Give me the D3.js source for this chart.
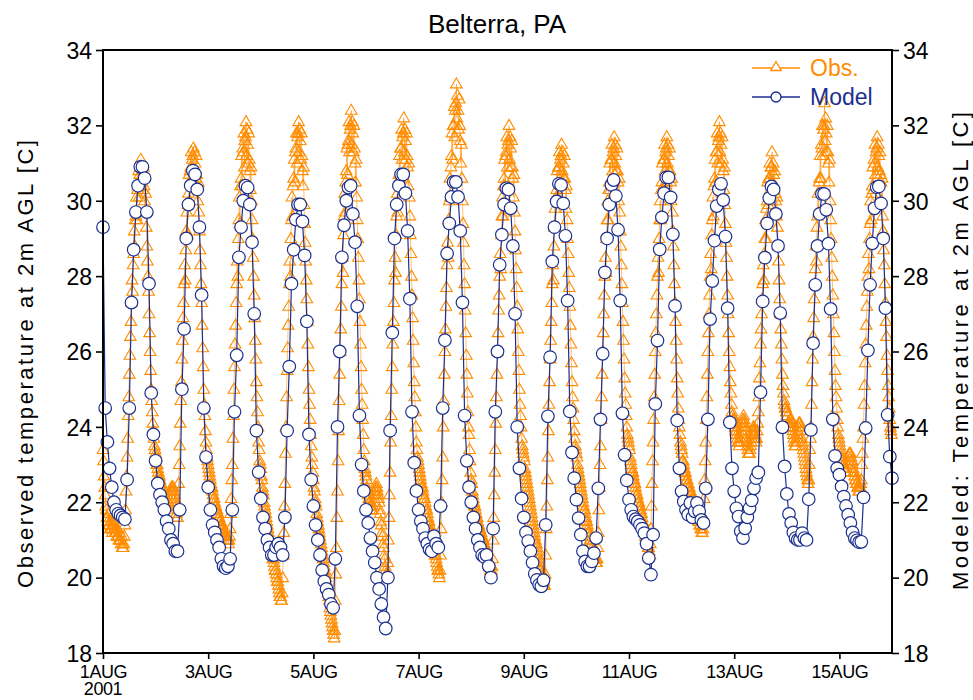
<!DOCTYPE html>
<meta charset="utf-8">
<script src="https://d3js.org/d3.v7.min.js"></script>
<style>
  body { margin: 0; background: #fff; }
  text { font-family: "Liberation Sans", Arial, sans-serif; }
</style>
<svg id="chart" width="973" height="700"></svg>
<script>

// Model: hourly values, one array per day (00..23 UTC)
var mod01 = [29.3, 24.5, 23.6, 22.9, 22.4, 22.0, 21.8, 21.7, 21.65, 21.6, 21.55, 22.6, 24.5, 27.3, 28.7, 29.7, 30.4, 30.9, 30.9, 30.6, 29.7, 27.8, 24.9, 23.8];
var mod02 = [23.1, 22.5, 22.2, 22.0, 21.8, 21.5, 21.3, 21.0, 20.9, 20.7, 20.7, 21.8, 25.0, 26.6, 29.0, 29.9, 30.4, 30.8, 30.7, 30.3, 29.3, 27.5, 24.5, 23.2];
var mod03 = [22.4, 21.8, 21.4, 21.2, 21.0, 20.8, 20.5, 20.3, 20.25, 20.3, 20.5, 21.8, 24.4, 25.9, 28.5, 29.3, 30.0, 30.4, 30.35, 29.9, 28.9, 27.0, 23.9, 22.8];
var mod04 = [22.1, 21.6, 21.3, 21.0, 20.8, 20.6, 20.6, 20.8, 20.9, 20.8, 20.6, 21.6, 23.9, 25.6, 27.8, 28.7, 29.5, 29.9, 29.9, 29.45, 28.55, 26.8, 23.8, 22.6];
var mod05 = [21.9, 21.4, 21.0, 20.6, 20.2, 19.9, 19.7, 19.55, 19.3, 19.2, 20.5, 24.0, 26.0, 28.5, 29.35, 30.0, 30.35, 30.4, 29.65, 28.9, 27.2, 24.3, 23.0, 22.3];
var mod06 = [21.8, 21.45, 21.05, 20.7, 20.4, 20.0, 19.7, 19.3, 18.95, 18.65, 20.0, 23.9, 26.5, 29.0, 29.9, 30.4, 30.7, 30.7, 30.2, 29.2, 27.4, 24.4, 23.05, 22.3];
var mod07 = [21.8, 21.5, 21.3, 21.05, 20.9, 20.75, 20.7, 21.1, 20.9, 20.8, 21.9, 24.5, 26.3, 28.6, 29.4, 30.1, 30.5, 30.5, 30.1, 29.2, 27.3, 24.3, 23.1, 22.4];
var mod08 = [22.0, 21.6, 21.3, 21.0, 20.8, 20.6, 20.55, 20.6, 20.3, 20.0, 21.3, 24.4, 26.0, 28.3, 29.1, 29.9, 30.33, 30.3, 29.8, 28.8, 27.0, 24.0, 22.9, 22.1];
var mod09 = [21.6, 21.2, 20.97, 20.7, 20.4, 20.1, 19.94, 19.81, 19.77, 19.93, 21.4, 24.28, 25.85, 28.39, 29.3, 29.98, 30.45, 30.42, 29.93, 29.07, 27.35, 24.41, 23.32, 22.64];
var mod10 = [22.07, 21.58, 21.14, 20.7, 20.43, 20.3, 20.3, 20.43, 20.65, 21.05, 22.37, 24.2, 25.94, 28.1, 29.0, 29.9, 30.42, 30.55, 30.13, 29.23, 27.35, 24.36, 23.26, 22.58];
var mod11 = [22.07, 21.8, 21.62, 21.55, 21.49, 21.4, 21.3, 21.18, 20.9, 20.52, 20.08, 21.14, 24.61, 26.29, 28.71, 29.56, 30.2, 30.62, 30.62, 30.09, 29.11, 27.21, 24.17, 22.9];
var mod12 = [22.29, 22.02, 21.8, 21.67, 21.98, 21.6, 21.76, 21.98, 21.76, 21.53, 21.45, 22.37, 24.2, 26.86, 27.87, 28.94, 29.86, 30.3, 30.45, 30.02, 29.05, 27.15, 24.12, 22.9];
var mod13 = [22.29, 21.84, 21.62, 21.23, 21.05, 21.31, 21.6, 21.84, 22.05, 22.37, 22.64, 22.79, 24.92, 27.33, 28.49, 29.4, 30.07, 30.38, 30.3, 29.65, 28.8, 27.02, 23.99, 22.95];
var mod14 = [22.22, 21.69, 21.45, 21.2, 21.05, 21.0, 21.0, 21.18, 21.05, 21.0, 22.08, 23.92, 26.22, 27.77, 28.8, 29.65, 30.18, 30.18, 29.76, 28.86, 27.13, 24.2, 23.23, 22.9];
var mod15 = [22.73, 22.42, 22.15, 21.9, 21.67, 21.45, 21.2, 21.05, 20.99, 20.94, 20.95, 22.13, 23.97, 26.03, 27.77, 28.87, 29.8, 30.36, 30.38, 29.93, 29.0, 27.15, 24.32, 23.21];
var modLast = 22.64;   // 16 Aug 00 UTC

// Observations: every 15 minutes, one array per day
var obs01 = [23.4,23.1,22.7,22.4, 22.2,21.9,21.8,21.6, 21.6,21.5,21.7,21.4, 21.4,21.3,21.5,21.3,
  21.3,21.2,21.4,21.5, 21.4,21.3,21.2,21.3, 21.2,21.1,21.3,21.1, 21.1,21.0,21.2,21.0,
  21.0,20.9,21.1,20.8, 20.9,20.8,20.9,21.1, 21.4,21.8,22.3,22.7, 23.2,23.7,24.3,24.8,
  25.4,25.9,26.4,26.8, 27.3,27.9,27.6,28.3, 28.6,29.2,28.8,29.5, 29.6,30.1,29.5,30.3,
  30.4,30.8,30.1,30.7, 30.9,31.1,30.5,30.8, 30.7,30.3,30.9,30.4, 30.0,29.7,30.2,29.3,
  28.8,28.4,28.0,27.6, 27.0,26.5,26.0,25.5, 25.0,24.7,24.4,24.1, 23.9,23.7,23.5,23.4];
var obs02 = [23.3,23.2,23.0,23.0, 22.9,22.8,22.7,22.7, 22.6,22.5,22.5,22.4, 22.3,22.2,22.3,22.1,
  22.1,22.0,21.9,22.0, 21.9,21.8,21.9,22.0, 22.0,22.1,22.2,22.2, 22.3,22.4,22.3,22.4,
  22.4,22.3,22.2,22.1, 22.0,21.9,21.7,21.6, 21.6,21.9,22.5,23.0, 23.5,24.1,24.7,25.2,
  25.8,26.3,26.9,27.3, 27.8,28.3,27.9,28.7, 29.2,29.7,29.1,29.9, 30.2,30.7,30.0,30.8,
  30.9,31.3,30.6,31.1, 31.2,31.4,30.8,31.3, 31.0,30.6,31.2,30.7, 30.4,30.0,30.5,29.7,
  29.2,28.7,28.3,27.8, 27.3,26.7,26.1,25.6, 25.0,24.6,24.3,23.9, 23.6,23.4,23.2,23.1];
var obs03 = [23.0,22.9,22.8,22.7, 22.6,22.5,22.4,22.4, 22.3,22.2,22.1,22.1, 22.0,21.9,21.9,21.8,
  21.8,21.7,21.7,21.6, 21.6,21.5,21.5,21.4, 21.4,21.3,21.4,21.3, 21.2,21.1,21.2,21.1,
  21.1,21.0,21.1,21.0, 21.0,20.9,21.0,21.1, 21.3,21.7,22.1,22.6, 23.0,23.7,24.3,25.0,
  25.6,26.2,26.7,27.3, 27.8,28.4,28.0,29.0, 29.5,30.1,29.4,30.4, 30.6,31.2,30.4,31.4,
  31.3,31.8,30.9,31.6, 31.7,32.1,31.2,31.9, 31.5,31.0,31.8,31.1, 30.8,30.3,30.9,30.0,
  29.5,29.0,28.5,28.0, 27.5,26.9,26.3,25.8, 25.2,24.8,24.4,24.0, 23.6,23.4,23.1,23.0];
var obs04 = [22.9,22.7,22.6,22.4, 22.3,22.2,22.0,21.9, 21.8,21.7,21.6,21.5, 21.4,21.3,21.2,21.1,
  21.0,20.9,20.8,20.8, 20.7,20.6,20.5,20.5, 20.4,20.3,20.2,20.2, 20.1,20.0,19.9,19.9,
  19.8,19.7,19.6,19.5, 19.5,19.4,19.4,19.6, 20.0,20.6,21.2,21.9, 22.5,23.3,24.0,24.8,
  25.5,26.1,26.7,27.2, 27.8,28.4,28.0,29.0, 29.5,30.1,29.6,30.4, 30.6,31.1,30.5,31.3,
  31.4,31.8,31.0,31.7, 31.8,32.1,31.3,31.9, 31.6,31.1,31.8,31.2, 30.8,30.4,30.9,29.9,
  29.4,28.9,28.4,27.9, 27.4,26.8,26.2,25.6, 25.0,24.6,24.2,23.8, 23.5,23.2,23.0,22.8];
var obs05 = [22.6,22.4,22.3,22.1, 22.0,21.9,21.7,21.6, 21.5,21.4,21.3,21.2, 21.1,21.0,20.9,20.8,
  20.7,20.6,20.5,20.4, 20.3,20.2,20.1,20.0, 19.9,19.8,19.7,19.6, 19.5,19.4,19.2,19.1,
  19.0,18.9,18.8,18.7, 18.6,18.5,18.4,18.6, 19.4,20.1,20.8,21.6, 22.3,23.1,23.9,24.7,
  25.4,26.0,26.6,27.2, 27.8,28.5,28.1,29.1, 29.6,30.2,29.7,30.5, 30.8,31.4,30.7,31.5,
  31.6,32.1,31.3,31.9, 32.0,32.4,31.5,32.1, 31.8,31.3,32.0,31.4, 31.0,30.5,31.1,30.1,
  29.5,29.0,28.5,27.9, 27.4,26.8,26.2,25.6, 25.0,24.6,24.2,23.8, 23.4,23.1,22.9,22.8];
var obs06 = [22.7,22.6,22.4,22.3, 22.2,22.1,22.0,22.0, 21.9,21.9,21.8,21.8, 21.8,21.9,22.0,22.1,
  22.2,22.3,22.4,22.5, 22.4,22.3,22.2,22.1, 22.0,21.8,21.7,21.5, 21.4,21.2,21.1,20.9,
  20.8,20.6,20.5,20.3, 20.2,20.1,20.0,20.1, 20.4,21.0,21.6,22.2, 22.8,23.6,24.3,25.0,
  25.6,26.2,26.8,27.3, 27.9,28.5,28.1,29.1, 29.6,30.2,29.7,30.5, 30.7,31.2,30.6,31.4,
  31.4,31.9,31.1,31.7, 31.8,32.2,31.3,31.9, 31.6,31.1,31.8,31.2, 30.9,30.4,31.0,30.1,
  29.6,29.1,28.6,28.0, 27.5,26.9,26.3,25.7, 25.2,24.8,24.4,24.0, 23.6,23.4,23.2,23.1];
var obs07 = [23.0,22.9,22.8,22.7, 22.6,22.5,22.4,22.4, 22.3,22.2,22.1,22.1, 22.0,21.9,21.8,21.8,
  21.7,21.6,21.5,21.5, 21.4,21.3,21.2,21.2, 21.1,21.0,20.9,20.9, 20.8,20.7,20.6,20.6,
  20.5,20.4,20.3,20.2, 20.2,20.1,20.0,20.2, 20.6,21.3,22.0,22.6, 23.2,24.0,24.7,25.4,
  26.0,26.6,27.2,27.7, 28.3,28.9,28.5,29.5, 30.0,30.6,30.1,30.9, 31.2,31.8,31.1,32.0,
  32.0,32.5,31.7,32.4, 32.6,33.1,32.2,32.8, 32.4,31.9,32.7,32.0, 31.6,31.0,31.5,30.6,
  30.0,29.4,28.9,28.3, 27.8,27.1,26.5,25.9, 25.4,24.9,24.4,24.0, 23.8,23.4,23.1,22.8];
var obs08 = [22.6,22.5,22.3,22.2, 22.1,22.0,21.9,21.9, 21.8,21.7,21.6,21.6, 21.5,21.4,21.4,21.3,
  21.3,21.2,21.2,21.1, 21.1,21.0,21.0,20.9, 20.9,20.8,20.8,20.7, 20.7,20.6,20.5,20.5,
  20.4,20.3,20.3,20.2, 20.3,20.2,20.3,20.5, 21.0,21.6,22.2,22.8, 23.4,24.1,24.8,25.4,
  26.0,26.5,27.1,27.5, 28.0,28.6,28.2,29.1, 29.6,30.1,29.6,30.4, 30.6,31.1,30.4,31.2,
  31.3,31.7,30.9,31.5, 31.6,32.0,31.1,31.7, 31.4,30.9,31.6,30.9, 30.6,30.1,30.7,29.7,
  29.2,28.7,28.2,27.7, 27.2,26.6,26.0,25.5, 25.0,24.6,24.3,24.0, 23.7,23.5,23.4,23.3];
var obs09 = [23.2,23.1,22.9,22.8, 22.7,22.6,22.5,22.4, 22.3,22.2,22.1,22.0, 21.9,21.8,21.7,21.6,
  21.5,21.4,21.3,21.2, 21.1,21.0,20.9,20.9, 20.8,20.7,20.6,20.5, 20.4,20.3,20.2,20.2,
  20.1,20.0,20.0,19.9, 19.9,19.8,19.8,20.1, 20.6,21.3,21.9,22.6, 23.2,23.9,24.6,25.2,
  25.8,26.3,26.8,27.3, 27.8,28.3,27.9,28.8, 29.3,29.8,29.3,30.1, 30.3,30.8,30.1,30.9,
  30.9,31.3,30.6,31.1, 31.2,31.5,30.8,31.3, 31.0,30.6,31.2,30.6, 30.3,29.8,30.4,29.5,
  29.0,28.6,28.1,27.7, 27.2,26.7,26.2,25.7, 25.2,24.8,24.5,24.2, 23.9,23.7,23.5,23.4];
var obs10 = [23.3,23.2,23.0,22.9, 22.8,22.7,22.6,22.5, 22.4,22.3,22.2,22.1, 22.0,21.9,21.8,21.8,
  21.7,21.6,21.5,21.5, 21.4,21.3,21.2,21.2, 21.1,21.0,21.0,20.9, 20.9,20.8,20.7,20.7,
  20.6,20.5,20.5,20.4, 20.5,20.4,20.5,20.8, 21.2,21.8,22.4,23.0, 23.5,24.2,24.8,25.4,
  26.0,26.5,27.0,27.5, 28.0,28.5,28.1,29.0, 29.5,30.0,29.5,30.3, 30.5,31.0,30.3,31.1,
  31.1,31.5,30.8,31.3, 31.4,31.7,31.0,31.5, 31.2,30.8,31.4,30.8, 30.5,30.0,30.6,29.7,
  29.2,28.8,28.3,27.8, 27.3,26.8,26.3,25.8, 25.3,24.9,24.6,24.3, 24.0,23.8,23.7,23.6];
var obs11 = [23.5,23.4,23.2,23.1, 23.0,22.9,22.8,22.8, 22.7,22.6,22.5,22.5, 22.4,22.3,22.2,22.2,
  22.1,22.0,22.0,21.9, 21.9,21.8,21.7,21.7, 21.6,21.5,21.4,21.4, 21.3,21.2,21.1,21.1,
  21.0,20.9,20.9,20.8, 20.8,20.7,20.6,20.9, 21.3,21.9,22.5,23.1, 23.6,24.2,24.8,25.4,
  26.0,26.5,27.0,27.5, 28.0,28.5,28.1,29.0, 29.5,30.0,29.5,30.3, 30.5,31.0,30.3,31.1,
  31.1,31.5,30.8,31.3, 31.4,31.7,31.0,31.5, 31.2,30.8,31.4,30.8, 30.5,30.0,30.6,29.7,
  29.2,28.8,28.3,27.8, 27.3,26.8,26.3,25.8, 25.3,24.9,24.5,24.2, 24.0,23.8,23.6,23.5];
var obs12 = [23.4,23.3,23.1,23.1, 23.0,22.9,22.8,22.8, 22.7,22.6,22.6,22.5, 22.5,22.4,22.4,22.3,
  22.3,22.2,22.2,22.1, 22.1,22.0,22.0,21.9, 21.9,21.8,21.8,21.7, 21.7,21.6,21.6,21.5,
  21.5,21.4,21.4,21.3, 21.3,21.2,21.2,21.3, 21.6,22.1,22.6,23.1, 23.6,24.2,24.8,25.4,
  26.0,26.5,27.0,27.5, 28.0,28.6,28.2,29.1, 29.5,30.1,29.6,30.4, 30.6,31.1,30.5,31.3,
  31.3,31.8,31.0,31.6, 31.7,32.1,31.3,31.8, 31.5,31.0,31.7,31.1, 30.8,30.3,30.9,29.9,
  29.4,28.9,28.5,28.0, 27.5,27.0,26.5,26.0, 25.6,25.2,24.9,24.6, 24.4,24.3,24.2,24.2];
var obs13 = [24.2,24.1,24.0,23.9, 23.9,23.8,23.7,23.6, 23.6,23.5,23.6,23.7, 23.8,23.9,24.0,24.1,
  24.2,24.3,24.2,24.1, 24.0,23.9,23.7,23.6, 23.5,23.4,23.3,23.3, 23.3,23.4,23.5,23.6,
  23.7,23.8,23.9,24.0, 24.0,23.9,23.8,23.7, 23.6,23.7,23.9,24.1, 24.4,24.8,25.3,25.7,
  26.2,26.6,27.0,27.4, 27.8,28.3,27.9,28.6, 29.0,29.5,29.0,29.8, 30.0,30.5,29.9,30.6,
  30.6,31.0,30.3,30.9, 30.9,31.3,30.5,31.0, 30.7,30.3,30.8,30.2, 30.0,29.6,30.1,29.3,
  28.8,28.4,27.9,27.4, 27.0,26.6,26.2,25.8, 25.4,25.1,24.9,24.7, 24.6,24.5,24.5,24.4];
var obs14 = [24.4,24.3,24.1,24.0, 24.0,24.1,24.2,24.2, 24.2,24.1,24.0,23.9, 23.8,23.7,23.6,23.5,
  23.5,23.6,23.7,23.8, 23.9,24.0,24.1,24.1, 24.1,24.0,23.9,23.7, 23.6,23.5,23.4,23.3,
  23.2,23.1,23.0,22.9, 22.8,22.7,22.6,22.5, 22.6,23.0,23.4,23.7, 24.0,24.6,25.2,25.8,
  26.4,26.9,27.4,27.8, 28.2,28.8,28.4,29.3, 29.6,30.2,29.7,30.5, 30.6,31.2,30.6,31.5,
  31.4,32.0,31.2,31.9, 32.0,32.6,31.6,32.2, 31.8,31.3,32.0,31.3, 31.0,30.5,31.1,30.0,
  29.5,29.0,28.5,28.0, 27.5,27.0,26.5,26.0, 25.5,25.1,24.8,24.5, 24.2,24.0,23.8,23.7];
var obs15 = [23.6,23.5,23.4,23.3, 23.2,23.1,23.1,23.0, 23.0,22.9,22.9,22.8, 22.8,22.9,23.0,23.0,
  23.1,23.2,23.3,23.3, 23.3,23.2,23.1,23.1, 23.0,22.9,22.8,22.8, 22.7,22.6,22.6,22.5,
  22.5,22.4,22.4,22.3, 22.4,22.3,22.4,22.5, 22.6,23.0,23.3,23.7, 24.0,24.6,25.1,25.7,
  26.2,26.7,27.2,27.6, 28.0,28.6,28.2,29.0, 29.4,30.0,29.5,30.2, 30.4,30.9,30.3,31.1,
  31.0,31.5,30.7,31.3, 31.4,31.7,30.9,31.5, 31.2,30.8,31.3,30.7, 30.5,30.0,30.6,29.6,
  29.2,28.7,28.3,27.8, 27.3,26.8,26.4,25.9, 25.5,25.1,24.8,24.5, 24.2,24.0,23.9,23.8];

var yTicks = [18, 20, 22, 24, 26, 28, 30, 32, 34];
var xTickDays = [1, 3, 5, 7, 9, 11, 13, 15];
var xTickLabels = ["1AUG", "3AUG", "5AUG", "7AUG", "9AUG", "11AUG", "13AUG", "15AUG"];

var obsColor = "#ff8c00", modColor = "#1b2f8f";

var svg = d3.select("#chart");
var plotL = 103, plotR = 892, plotT = 50, plotB = 653;

var x = d3.scaleUtc()
    .domain([new Date(Date.UTC(2001, 7, 1)), new Date(Date.UTC(2001, 7, 16))])
    .range([plotL, plotR]);
var y = d3.scaleLinear().domain([18, 34]).range([plotB, plotT]);

// build the time series
var modelDays = [mod01, mod02, mod03, mod04, mod05, mod06, mod07, mod08, mod09, mod10, mod11, mod12, mod13, mod14, mod15];
var obsDays = [obs01, obs02, obs03, obs04, obs05, obs06, obs07, obs08, obs09, obs10, obs11, obs12, obs13, obs14, obs15];

var model = [];
modelDays.forEach(function(day, d) {
  day.forEach(function(v, h) { model.push({t: new Date(Date.UTC(2001, 7, 1 + d, h)), v: v}); });
});
model.push({t: new Date(Date.UTC(2001, 7, 16)), v: modLast});

var obs = [];
obsDays.forEach(function(day, d) {
  day.forEach(function(v, i) { obs.push({t: new Date(Date.UTC(2001, 7, 1 + d, 0, 15 * i)), v: v}); });
});

var line = d3.line().x(function(d) { return x(d.t); }).y(function(d) { return y(d.v); });
var tri = "M0,-6L5.8,4L-5.8,4Z";

// obs
svg.append("path").datum(obs)
    .attr("d", line).attr("fill", "none")
    .attr("stroke", obsColor).attr("stroke-opacity", 0.55).attr("stroke-width", 1);
svg.append("g").selectAll("path").data(obs).enter().append("path")
    .attr("d", tri)
    .attr("transform", function(d) { return "translate(" + x(d.t) + "," + y(d.v) + ")"; })
    .attr("fill", "none").attr("stroke", obsColor).attr("stroke-width", 1.1);

// model
svg.append("path").datum(model)
    .attr("d", line).attr("fill", "none")
    .attr("stroke", modColor).attr("stroke-width", 1.2);
svg.append("g").selectAll("circle").data(model).enter().append("circle")
    .attr("cx", function(d) { return x(d.t); })
    .attr("cy", function(d) { return y(d.v); })
    .attr("r", 6.3)
    .attr("fill", "#fff").attr("stroke", modColor).attr("stroke-width", 1.2);

// axes
var yl = svg.append("g").attr("transform", "translate(" + plotL + ",0)")
    .call(d3.axisLeft(y).tickValues(yTicks).tickSize(7).tickPadding(4).tickFormat(d3.format("d")));
var yr = svg.append("g").attr("transform", "translate(" + plotR + ",0)")
    .call(d3.axisRight(y).tickValues(yTicks).tickSize(7).tickPadding(4).tickFormat(d3.format("d")));
var xa = svg.append("g").attr("transform", "translate(0," + plotB + ")")
    .call(d3.axisBottom(x)
      .tickValues(xTickDays.map(function(d) { return new Date(Date.UTC(2001, 7, d)); }))
      .tickSize(6).tickPadding(5)
      .tickFormat(function(d, i) { return xTickLabels[i]; }));

[yl, yr, xa].forEach(function(g) {
  g.select(".domain").remove();
  g.selectAll(".tick line").attr("stroke", "#000").attr("stroke-width", 1.6);
  g.selectAll("text").attr("fill", "#000").style("font-family", "Liberation Sans, Arial, sans-serif");
});
yl.selectAll("text").style("font-size", "23px").attr("dy", "0.36em");
yr.selectAll("text").style("font-size", "23px").attr("dy", "0.36em");
xa.selectAll("text").style("font-size", "18px").style("letter-spacing", "-0.4px").attr("dy", "0.75em");

xa.append("text").attr("x", x(new Date(Date.UTC(2001, 7, 1)))).attr("y", 42)
    .attr("text-anchor", "middle").attr("fill", "#000")
    .style("font-size", "18px").style("letter-spacing", "-0.4px").text("2001");

// frame
svg.append("rect").attr("x", plotL).attr("y", plotT)
    .attr("width", plotR - plotL).attr("height", plotB - plotT)
    .attr("fill", "none").attr("stroke", "#000").attr("stroke-width", 2);

// title and axis titles
svg.append("text").attr("x", 497).attr("y", 33).attr("text-anchor", "middle")
    .style("font-size", "26px").text("Belterra, PA");

svg.append("text").attr("transform", "translate(33,364) rotate(-90)")
    .attr("text-anchor", "middle").style("font-size", "22px")
    .attr("textLength", 448).attr("lengthAdjust", "spacing")
    .text("Observed temperature at 2m AGL [C]");
svg.append("text").attr("transform", "translate(968,351) rotate(-90)")
    .attr("text-anchor", "middle").style("font-size", "22px")
    .attr("textLength", 478).attr("lengthAdjust", "spacing")
    .text("Modeled: Temperature at 2m AGL [C]");

// legend
var lg = svg.append("g");
[{label: "Obs.", color: obsColor, y: 68, kind: "tri"},
 {label: "Model", color: modColor, y: 97, kind: "circ"}].forEach(function(e) {
  lg.append("line").attr("x1", 752).attr("x2", 800).attr("y1", e.y).attr("y2", e.y)
    .attr("stroke", e.color).attr("stroke-width", 1.3);
  if (e.kind === "tri") {
    lg.append("path").attr("d", "M0,-5.5L5.2,3.5L-5.2,3.5Z").attr("transform", "translate(776," + (e.y - 1) + ")")
      .attr("fill", "#fff").attr("stroke", e.color).attr("stroke-width", 1.3);
  } else {
    lg.append("circle").attr("cx", 776).attr("cy", e.y).attr("r", 5)
      .attr("fill", "#fff").attr("stroke", e.color).attr("stroke-width", 1.3);
  }
  lg.append("text").attr("x", 810).attr("y", e.y + 8).attr("fill", e.color)
    .style("font-size", "23px").text(e.label);
});

</script>
